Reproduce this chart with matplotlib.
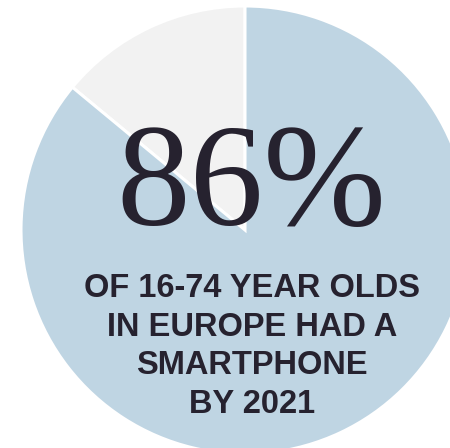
import matplotlib
matplotlib.use("Agg")
import matplotlib.pyplot as plt

# Data
labels = ["No smartphone", "Had a smartphone"]
shares = [14, 86]
colors = ["#f2f2f2", "#bfd5e3"]
headline = "86%"
caption_lines = ["OF 16-74 YEAR OLDS", "IN EUROPE HAD A", "SMARTPHONE", "BY 2021"]

W, H = 450, 448
fig = plt.figure(figsize=(W / 100, H / 100), dpi=100)
ax = fig.add_axes([0, 0, 1, 1])
ax.pie(shares, colors=colors, startangle=90, counterclock=True,
       center=(245, H - 230), radius=224,
       wedgeprops=dict(edgecolor="white", linewidth=2.2))
ax.set_xlim(0, W)
ax.set_ylim(0, H)
ax.set_aspect("equal")
ax.axis("off")

text_color = "#26222f"
ax.text(251, H - 225, headline, ha="center", va="baseline",
        fontsize=106, family="Liberation Serif", color=text_color)

baselines = [297, 335.5, 374.5, 413]
for line, b in zip(caption_lines, baselines):
    ax.text(252, H - b, line, ha="center", va="baseline", fontsize=23.5,
            family="Liberation Sans", weight="bold", color=text_color)

fig.savefig("out.png", dpi=100)
